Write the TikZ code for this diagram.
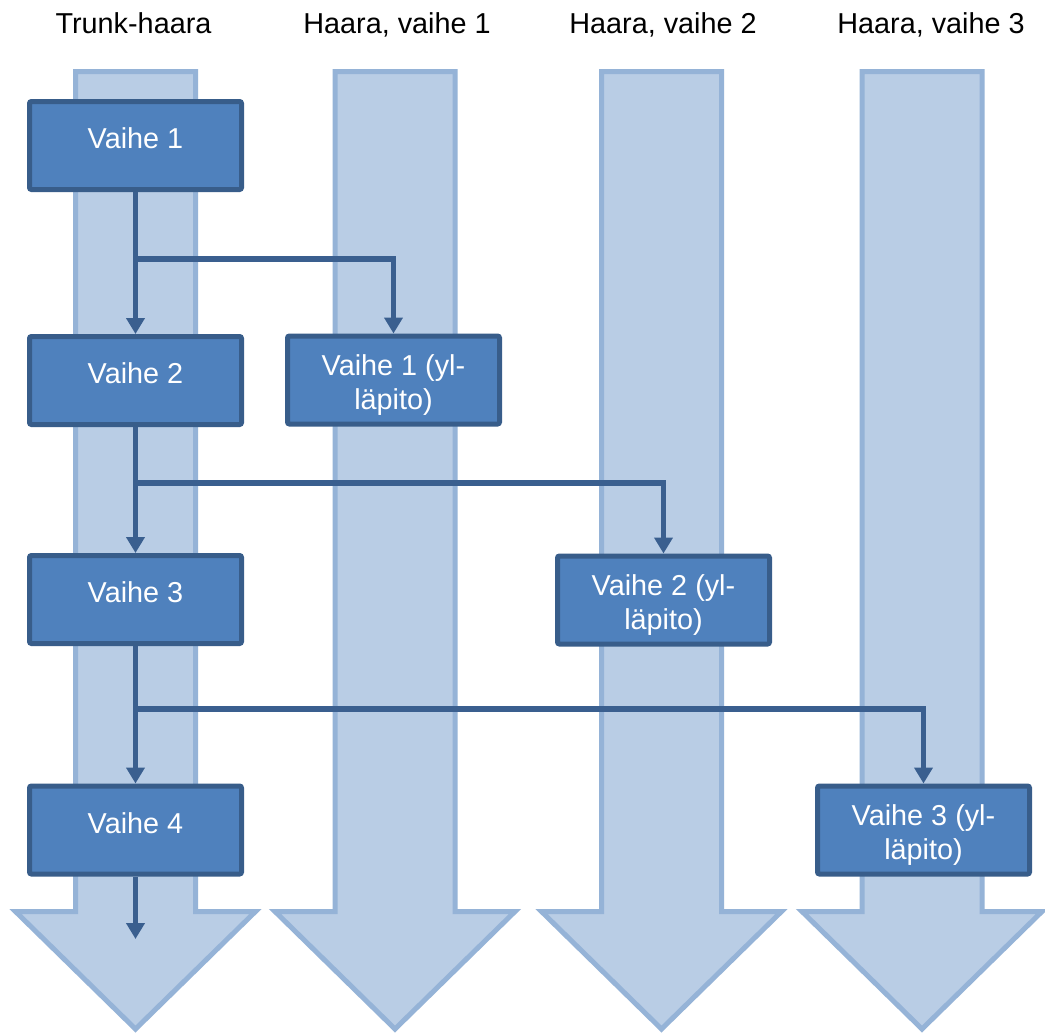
\documentclass[tikz,border=0pt]{standalone}
\usepackage{fontspec}
\setmainfont{Liberation Sans}
\usetikzlibrary{arrows.meta}
\definecolor{shaftfill}{HTML}{B9CDE5}
\definecolor{shaftline}{HTML}{95B3D7}
\definecolor{boxfill}{HTML}{4F81BD}
\definecolor{boxline}{HTML}{385D8A}
\definecolor{linkcol}{HTML}{3A5F8F}
\begin{document}
\begin{tikzpicture}[x=1pt,y=-1pt,
  bigarrow/.style={fill=shaftfill,draw=shaftline,line width=5pt,line join=miter},
  stagebox/.style={draw=boxline,fill=boxfill,line width=5pt,minimum width=212pt,
    minimum height=88pt,inner sep=0pt,rounded corners=2pt},
  boxlabel/.style={text=white,font=\fontsize{28.8}{34}\selectfont,anchor=base,inner sep=0pt},
  header/.style={font=\fontsize{28.8}{34}\selectfont,anchor=base,inner sep=0pt},
  link/.style={draw=linkcol,line width=5.5pt},
  linkarrow/.style={link,-{Triangle[length=16pt,width=18pt]}}]

% canvas
\useasboundingbox[fill=white] (0,0) rectangle (1045,1034);

% column headers
\node[header] (h0) at (133.5,33) {Trunk-haara};
\node[header] (h1) at (397,33) {Haara, vaihe 1};
\node[header] (h2) at (663,33) {Haara, vaihe 2};
\node[header] (h3) at (931,33) {Haara, vaihe 3};

% wide background arrows, one per branch
\foreach \c in {135.5,395,661.5,922}{
  \draw[bigarrow] (\c-60,71.5) -- (\c+60,71.5) -- (\c+60,911.5) -- (\c+120,911.5)
    -- (\c,1029) -- (\c-120,911.5) -- (\c-60,911.5) -- cycle;
}

% stage boxes
\node[stagebox] (v1) at (135.5,145.5) {};
\node[stagebox] (v2) at (135.5,380.5) {};
\node[stagebox] (v3) at (135.5,599.5) {};
\node[stagebox] (v4) at (135.5,830) {};
\node[stagebox] (v1y) at (393.5,380) {};
\node[stagebox] (v2y) at (663.5,600) {};
\node[stagebox] (v3y) at (923.5,830) {};

% box texts
\node[boxlabel] (t1) at (135.5,148.5) {Vaihe 1};
\node[boxlabel] (t2) at (135.5,383.5) {Vaihe 2};
\node[boxlabel] (t3) at (135.5,602.5) {Vaihe 3};
\node[boxlabel] (t4) at (135.5,833) {Vaihe 4};
\node[boxlabel] (t1y) at (393.5,375) {\begin{tabular}[t]{@{}c@{}}Vaihe 1 (yl-\\läpito)\end{tabular}};
\node[boxlabel] (t2y) at (663.5,595) {\begin{tabular}[t]{@{}c@{}}Vaihe 2 (yl-\\läpito)\end{tabular}};
\node[boxlabel] (t3y) at (923.5,825) {\begin{tabular}[t]{@{}c@{}}Vaihe 3 (yl-\\läpito)\end{tabular}};

% branch points on the trunk
\coordinate (j1) at (135.5,259);
\coordinate (j2) at (135.5,483);
\coordinate (j3) at (135.5,709);
\coordinate (tend) at (135.5,939);

% connectors
\draw[linkarrow] (v1.south) -- (v2.north);
\draw[linkarrow] (j1) -| (v1y.north);
\draw[linkarrow] (v2.south) -- (v3.north);
\draw[linkarrow] (j2) -| (v2y.north);
\draw[linkarrow] (v3.south) -- (v4.north);
\draw[linkarrow] (j3) -| (v3y.north);
\draw[linkarrow] (v4.south) -- (tend);
\end{tikzpicture}
\end{document}
